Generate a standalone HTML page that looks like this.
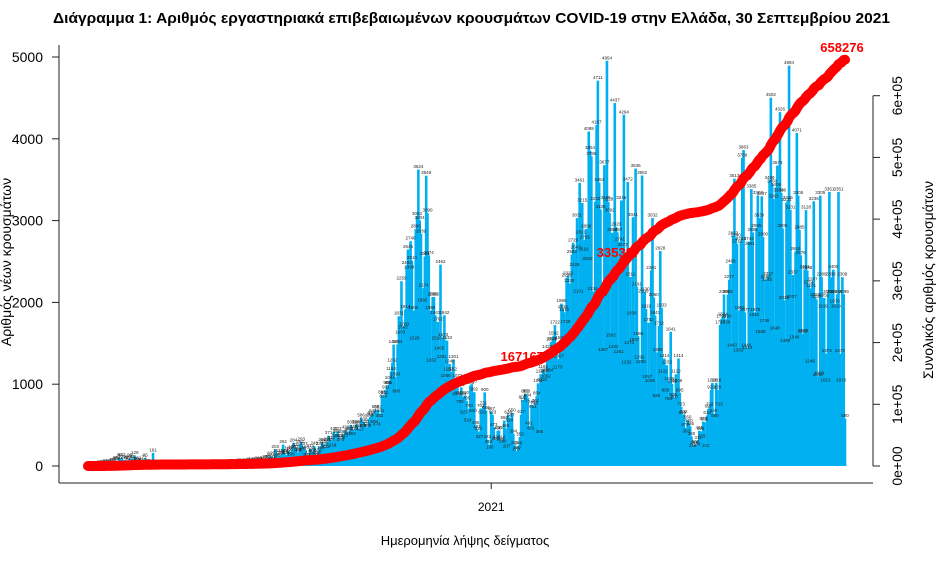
<!DOCTYPE html>
<html><head><meta charset="utf-8">
<style>
html,body{margin:0;padding:0;background:#fff;}
svg{display:block;font-family:"Liberation Sans","DejaVu Sans",sans-serif;}
</style></head>
<body>
<svg id="chart" width="944" height="561" viewBox="0 0 944 561" xmlns="http://www.w3.org/2000/svg">
<text x="53" y="23" font-size="15" font-weight="bold" textLength="837" lengthAdjust="spacingAndGlyphs">Διάγραμμα 1: Αριθμός εργαστηριακά επιβεβαιωμένων κρουσμάτων COVID-19 στην Ελλάδα, 30 Σεπτεμβρίου 2021</text>
<g id="bars"></g>
<g id="barlabels"></g>
<g id="axes"></g>
<g id="line"></g>
<text x="465" y="545" font-size="13" text-anchor="middle">Ημερομηνία λήψης δείγματος</text>
<text transform="translate(11,262) rotate(-90)" font-size="14" text-anchor="middle">Αριθμός νέων κρουσμάτων</text>
<text transform="translate(933,280) rotate(-90)" font-size="14" text-anchor="middle">Συνολικός αριθμός κρουσμάτων</text>
</svg>
<script>
const dailyCases = [
1,0,1,0,3,2,0, 2,2,21,7,10,21,31, 19,15,33,17,45,36,46, 65,53,64,99,72,102,71,
74,71,60,62,95,86,82, 56,129,58,43,62,39,44, 20,71,95,15,28,25,18, 21,161,26,21,9,15,17,
12,8,14,16,11,6,10, 10,8,5,13,3,10,11, 6,3,8,9,4,11,15, 5,3,10,6,16,11,4,
10,3,7,18,12,9,18, 20,11,9,17,14,8,11, 19,13,20,8,12,25,16, 21,12,15,22,29,17,26,
31,19,24,28,35,17,25, 29,41,33,28,46,36,48, 32,40,37,53,62,36,53, 56,67,44,78,62,72,80,
110,121,58,78,203,151,98, 125,129,150,262,152,126,136, 185,169,108,196,284,203,225,
168,156,262,293,181,237,193, 101,100,136,212,171,156,243, 116,126,156,237,190,285,269,
232,202,291,371,288,310,218, 421,339,385,423,338,290,309, 387,345,438,367,421,413,502,
362,445,421,508,497,456,413, 586,460,538,510,474,460,578, 601,616,641,508,690,474,682,
583,641,865,818,862,931,985, 985,1044,1154,1262,1484,1090,880, 1484,1831,1603,2259,1662,1700,1914,
2450,2646,2398,2748,2510,1900,1526, 2896,3052,3624,3004,2839,1992,2174, 2561,3549,3090,2574,1898,1262,2066,
2066,1842,1526,1762,1405,2462,1301, 1573,1842,1069,1533,1152,1248,960, 1152,1301,960,844,1072,860,750,
962,844,623,860,795,524,700, 985,1000,640,902,495,447,420, 327,703,626,731,900,680,322,
262,195,667,623,473,302,320, 430,435,296,316,268,556,460, 207,624,524,587,650,394,253,
170,187,246,353,627,806,771, 881,878,834,491,429,746,691, 736,762,854,1011,385,1122,1018,
1182,1138,1062,1422,1134,1307,1514, 1525,1592,1722,1420,1173,1307,1532, 1985,1916,1879,1729,2299,2323,2230,
1533,2583,2729,2426,2643,3031,2101, 3461,2821,3215,2616,2765,2898,2502, 4089,3854,3786,2134,1927,3232,4167,
4711,3464,3136,2062,1387,3677,3246, 4954,3228,3092,1562,2852,1422,4437, 2920,2857,1361,2741,3246,2673,4294,
2437,1232,3472,1474,2311,1836,3041, 1507,3636,2191,1586,1296,1238,3552, 2100,2130,1919,1057,1752,1006,2391,
3032,2060,1841,826,1388,1712,2628, 1933,1122,1314,895,1233,788,1035, 1641,1005,835,807,1122,1006,1314,
895,723,616,632,471,393,560, 520,485,360,212,251,260,234, 311,431,423,329,543,536,212,
618,697,723,929,1016,640,580, 1016,929,723,1726,1795,1824,2096, 1726,1795,2096,2277,2468,1443,2813,
3513,2790,2716,1383,1903,2743,3768, 3863,1877,1440,1414,2744,2681,3385, 2855,1818,1878,2905,3307,3030,1608,
3297,2800,1745,2280,2245,2317,3489, 4502,3450,3263,1648,3406,3673,3339, 4326,3340,2905,2025,1499,3221,3245,
4894,3131,2037,2337,1540,2624,4071, 3305,2885,2576,1615,1618,2401,3128, 2388,2214,1246,2171,2247,3236,2059,
2037,1083,1098,3305,2308,1919,2055, 1013,1374,2099,3351,2308,2099,2400, 1979,1919,2099,3351,1374,1013,2308,
2099,580];
const leftTicks = [0,1000,2000,3000,4000,5000];
const rightTicks = [0,100000,200000,300000,400000,500000,600000];
const rightTickLabels = ["0e+00","1e+05","2e+05","3e+05","4e+05","5e+05","6e+05"];
const xTickDays = [310];
const xTickLabels = ["2021"];
const annotatedDays = [340, 414];

const NS="http://www.w3.org/2000/svg";
const X0=88, X1=845, Y0=466;
const nDays=dailyCases.length;
const xs=d=>X0+(X1-X0)*d/(nDays-1);
const yL=v=>Y0-v*(409/5000);
const yR=v=>Y0-v*(370.3/600000);
function mk(tag,attrs,parent){const e=document.createElementNS(NS,tag);for(const k in attrs)e.setAttribute(k,attrs[k]);parent.appendChild(e);return e;}
const bars=document.getElementById('bars'),bl=document.getElementById('barlabels'),axes=document.getElementById('axes'),line=document.getElementById('line');
const bw=(X1-X0)/(nDays-1);
dailyCases.forEach((v,i)=>{
  const r=mk('rect',{x:(xs(i)-bw).toFixed(2),y:yL(v).toFixed(2),width:(bw*2).toFixed(2),height:(Y0-yL(v)).toFixed(2),fill:'#00b0f0'},bars);
  
  
});
dailyCases.forEach((v,i)=>{
  const t=mk('text',{x:xs(i).toFixed(2),y:(yL(v)-1.5).toFixed(2),'font-size':'4.5','text-anchor':'middle',fill:'#222'},bl);
  
  
  t.textContent=v;
});
const la=mk('line',{x1:59,y1:45,x2:59,y2:483,stroke:'#222','stroke-width':1},axes);


const ba=mk('line',{x1:59,y1:483,x2:873,y2:483,stroke:'#222','stroke-width':1},axes);


leftTicks.forEach(v=>{
  mk('line',{x1:52,y1:yL(v),x2:59,y2:yL(v),stroke:'#222'},axes);
  const t=mk('text',{x:43,y:yL(v)+5,'font-size':'14','text-anchor':'end'},axes);
  
  
  t.textContent=v;
});
xTickDays.forEach((d,i)=>{
  mk('line',{x1:xs(d),y1:483,x2:xs(d),y2:489,stroke:'#222'},axes);
  const t=mk('text',{x:xs(d),y:511,'font-size':'12','text-anchor':'middle'},axes);
  
  
  t.textContent=xTickLabels[i];
});
const ra=mk('line',{x1:873,y1:yR(600000),x2:873,y2:Y0,stroke:'#222'},axes);


rightTicks.forEach((v,i)=>{
  mk('line',{x1:873,y1:yR(v),x2:880,y2:yR(v),stroke:'#222'},axes);
  const t=mk('text',{transform:`translate(902,${yR(v)}) rotate(-90)`,'font-size':'14','text-anchor':'middle'},axes);
  
  
  t.textContent=rightTickLabels[i];
});
const cum=[];let s=0;dailyCases.forEach(v=>{s+=v;cum.push(s);});
const pts=cum.map((c,i)=>xs(i).toFixed(2)+','+yR(c).toFixed(2)).join(' ');
const pl=mk('polyline',{points:pts,fill:'none',stroke:'#ff0000','stroke-width':10,'stroke-linecap':'round','stroke-linejoin':'round'},line);


annotatedDays.forEach(d=>{
  const t=mk('text',{x:xs(d)-8,y:yR(cum[d])-2,'font-size':'13','font-weight':'bold',fill:'#ff0000','text-anchor':'middle'},line);
  
  
  t.textContent=cum[d];
});
const ft=mk('text',{x:842,y:52,'font-size':'13','font-weight':'bold',fill:'#ff0000','text-anchor':'middle'},line);


ft.textContent=cum[nDays-1];
</script>
</body></html>
